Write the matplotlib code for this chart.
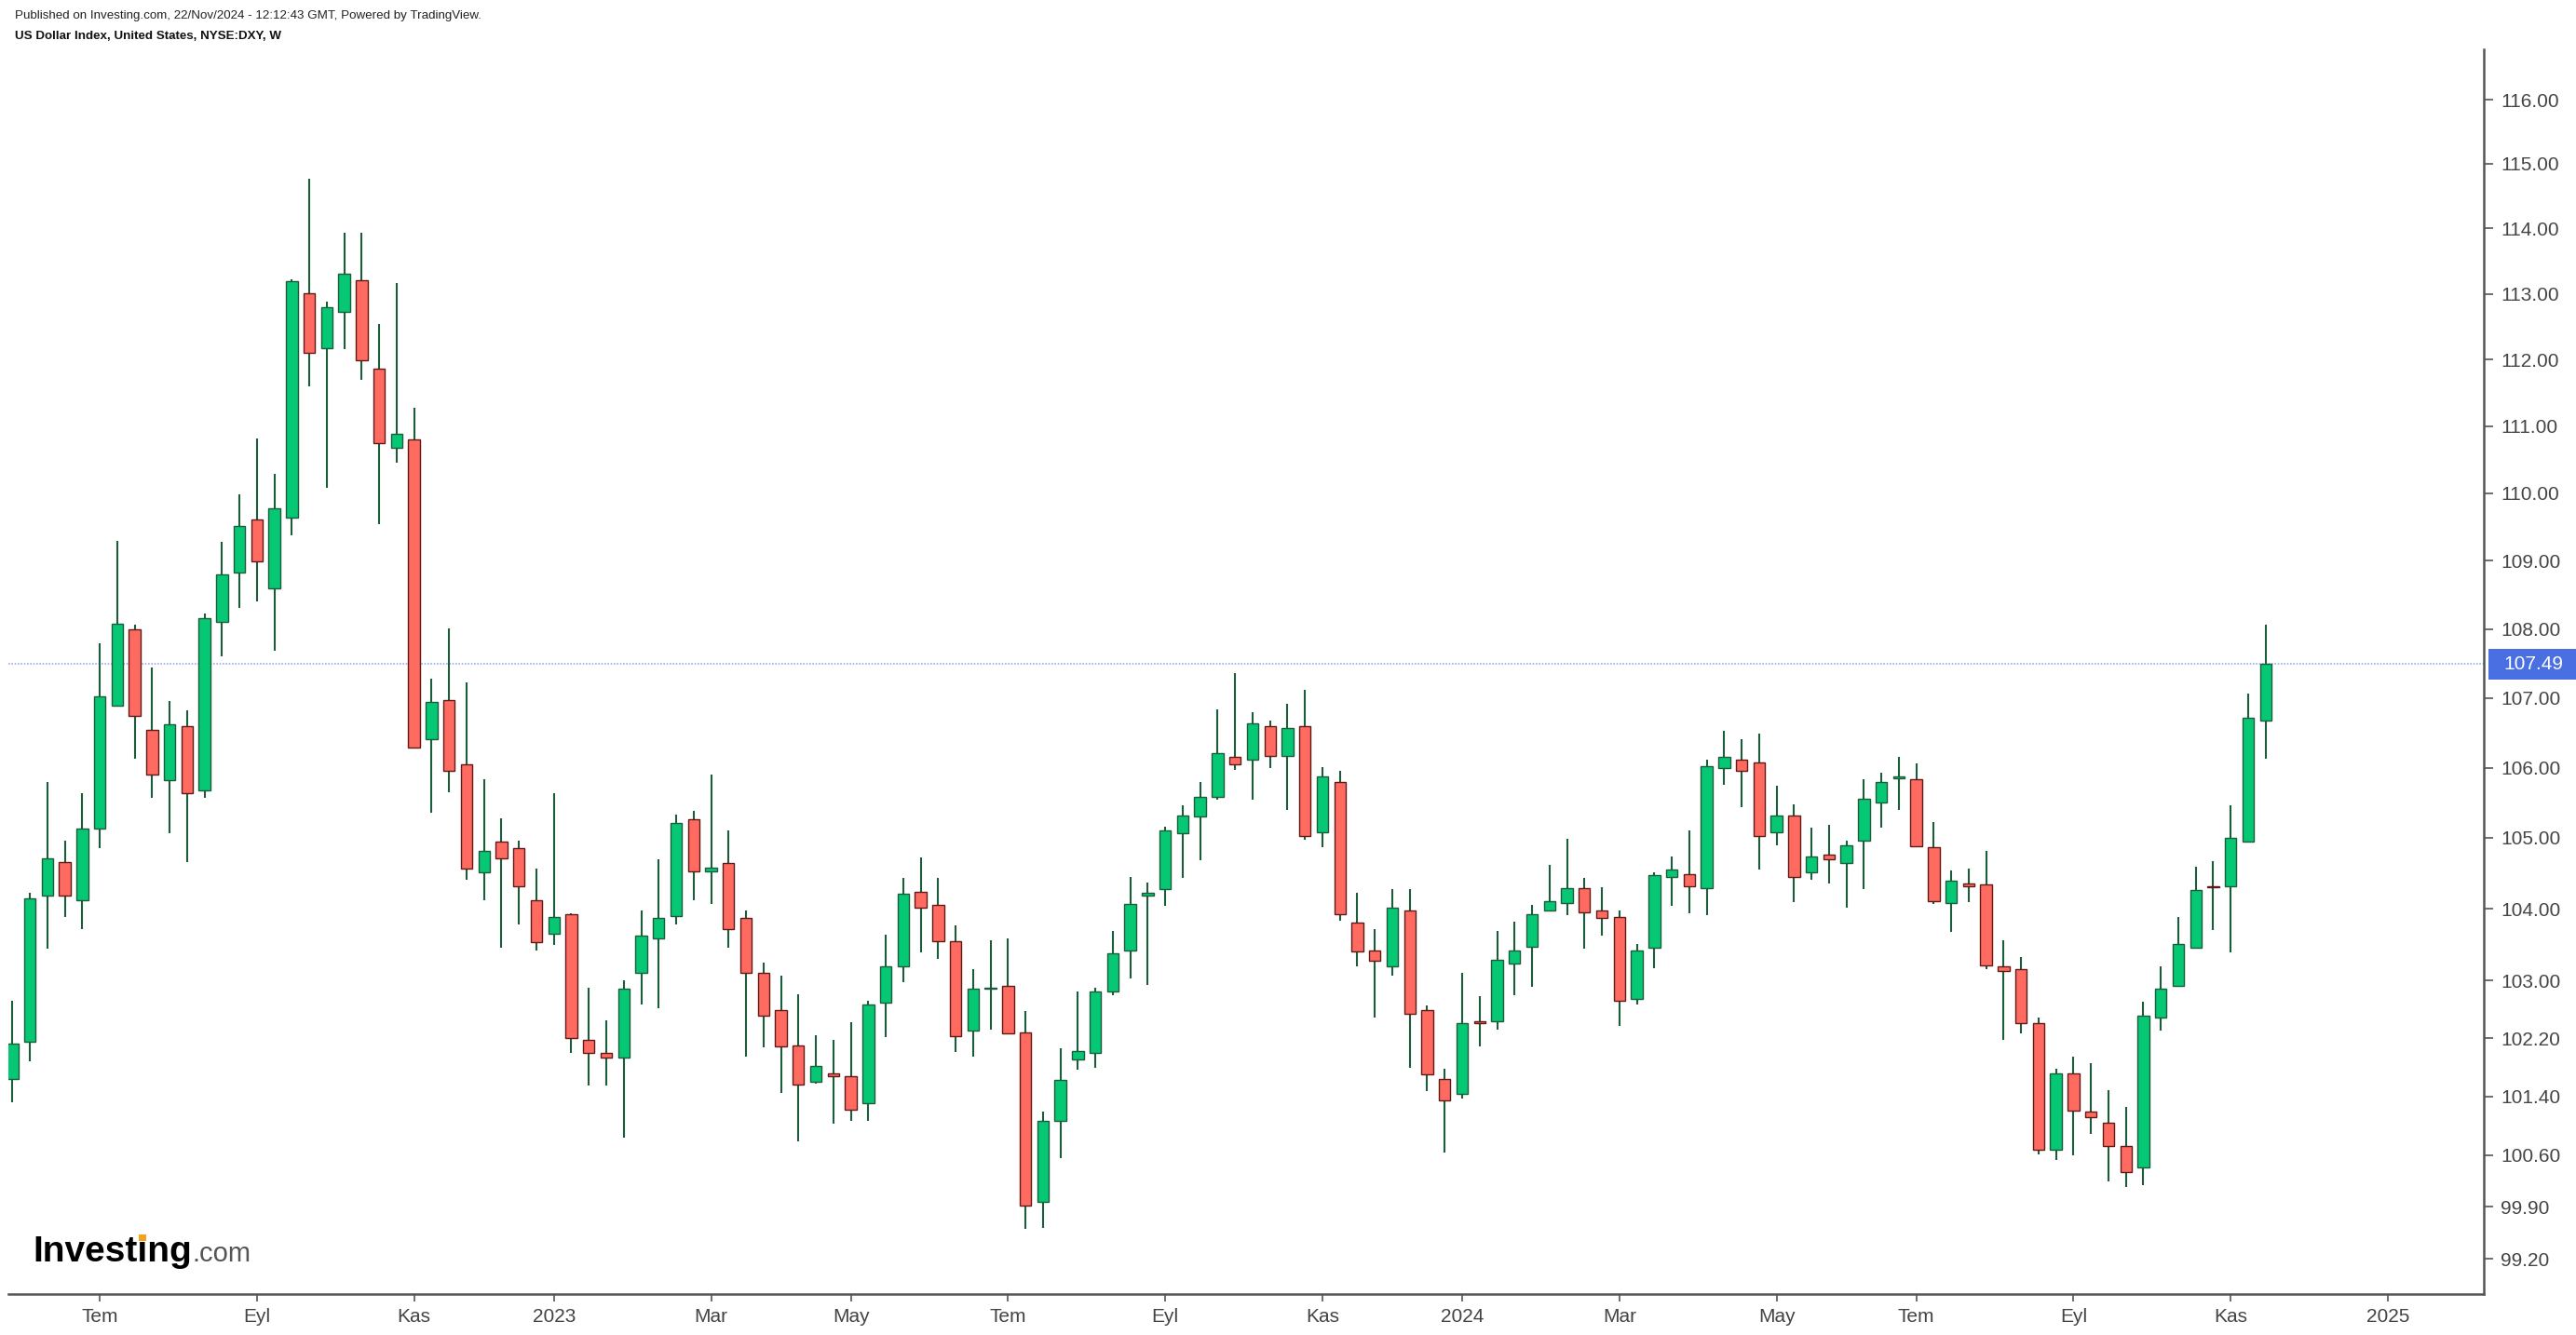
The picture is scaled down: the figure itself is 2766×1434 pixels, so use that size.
import numpy as np
import pandas as pd
import matplotlib
matplotlib.use("Agg")
import matplotlib.pyplot as plt
from matplotlib.patches import Rectangle
from matplotlib.transforms import IdentityTransform
from matplotlib.ticker import FixedLocator, FixedFormatter, NullLocator

# Weekly DXY candles, first week starting 2022-05-30
first_week = "2022-05-30"
opens = [
    101.64, 102.15, 104.18, 104.66, 104.12, 105.13, 106.89, 108.00, 106.54, 105.82,
    106.59, 105.68, 108.11, 108.83, 109.61, 108.59, 109.64, 113.01, 112.17, 112.73,
    113.21, 111.87, 110.67, 110.80, 106.41, 106.97, 106.05, 104.51, 104.95, 104.85,
    104.12, 103.65, 103.92, 102.17, 101.99, 101.93, 103.10, 103.59, 103.90, 105.27,
    104.53, 104.64, 103.87, 103.10, 102.59, 102.10, 101.60, 101.72, 101.67, 101.30,
    102.69, 103.19, 104.24, 104.06, 103.55, 102.31, 102.88, 102.92, 102.28, 99.97,
    101.07, 101.91, 102.00, 102.85, 103.42, 104.19, 104.27, 105.06, 105.30, 105.58,
    106.16, 106.11, 106.59, 106.17, 106.59, 105.08, 105.80, 103.81, 103.42, 103.19,
    103.97, 102.59, 101.64, 101.43, 102.43, 102.43, 103.23, 103.47, 103.97, 104.08,
    104.29, 103.97, 103.89, 102.74, 103.45, 104.45, 104.49, 104.29, 106.00, 106.11,
    106.07, 105.08, 105.32, 104.51, 104.76, 104.64, 104.96, 105.50, 105.85, 105.84,
    104.87, 104.08, 104.36, 104.34, 103.20, 103.15, 102.41, 100.67, 101.72, 101.19,
    101.04, 100.72, 100.43, 102.49, 102.92, 103.45, 104.32, 104.32, 104.95, 106.68,
]
highs = [
    102.72, 104.23, 105.80, 104.96, 105.64, 107.79, 109.30, 108.06, 107.44, 106.96,
    106.82, 108.23, 109.28, 109.98, 110.82, 110.28, 113.22, 114.77, 112.88, 113.94,
    113.94, 112.54, 113.17, 111.28, 107.28, 108.01, 107.22, 105.83, 105.28, 104.96,
    104.56, 105.64, 103.94, 102.90, 102.44, 103.00, 103.98, 104.69, 105.33, 105.38,
    105.90, 105.11, 103.98, 103.24, 103.06, 102.80, 102.24, 102.18, 102.42, 102.72,
    103.63, 104.43, 104.72, 104.43, 103.77, 103.16, 103.56, 103.58, 102.57, 101.19,
    102.06, 102.85, 102.90, 103.69, 104.45, 104.37, 105.16, 105.46, 105.80, 106.84,
    107.36, 106.79, 106.68, 106.91, 107.12, 106.01, 105.96, 104.22, 103.71, 104.27,
    104.27, 102.65, 101.78, 103.11, 102.78, 103.69, 103.82, 104.06, 104.62, 104.98,
    104.43, 104.30, 103.98, 103.51, 104.51, 104.74, 105.11, 106.12, 106.53, 106.41,
    106.49, 105.74, 105.48, 105.14, 105.19, 104.96, 105.83, 105.93, 106.15, 106.06,
    105.22, 104.54, 104.56, 104.82, 103.56, 103.33, 102.49, 101.78, 101.94, 101.86,
    101.48, 101.25, 102.70, 103.19, 103.88, 104.59, 104.67, 105.46, 107.06, 108.06,
]
lows = [
    101.32, 101.88, 103.44, 103.89, 103.71, 104.85, 106.88, 106.13, 105.57, 105.07,
    104.66, 105.57, 107.61, 108.31, 108.40, 107.69, 109.37, 111.59, 110.08, 112.16,
    111.70, 109.54, 110.46, 106.29, 105.36, 105.65, 104.41, 104.12, 103.46, 103.78,
    103.41, 103.49, 101.99, 101.55, 101.55, 100.84, 102.66, 102.61, 103.78, 104.12,
    104.07, 103.46, 101.95, 102.07, 101.44, 100.79, 101.57, 101.03, 101.06, 101.06,
    102.22, 102.97, 103.39, 103.30, 102.01, 101.95, 102.32, 102.26, 99.60, 99.62,
    100.56, 101.77, 101.79, 102.79, 103.02, 102.94, 104.04, 104.44, 104.68, 105.54,
    105.97, 105.54, 105.99, 105.39, 104.97, 104.87, 103.83, 103.20, 102.48, 103.07,
    101.79, 101.47, 100.64, 101.37, 102.09, 102.32, 102.79, 102.91, 103.97, 103.91,
    103.44, 103.62, 102.37, 102.66, 103.17, 104.04, 103.94, 103.91, 105.76, 105.44,
    104.55, 104.89, 104.09, 104.41, 104.36, 104.01, 104.28, 105.15, 105.39, 104.88,
    104.07, 103.67, 104.09, 103.15, 102.17, 102.27, 100.61, 100.53, 100.59, 100.89,
    100.24, 100.17, 100.19, 102.30, 102.92, 103.45, 103.70, 103.39, 104.95, 106.13,
]
closes = [
    102.12, 104.15, 104.71, 104.18, 105.13, 107.02, 108.08, 106.74, 105.90, 106.62,
    105.63, 108.16, 108.80, 109.52, 108.99, 109.77, 113.19, 112.10, 112.79, 113.30,
    111.99, 110.74, 110.88, 106.29, 106.95, 105.95, 104.56, 104.81, 104.71, 104.32,
    103.53, 103.89, 102.20, 102.00, 101.93, 102.89, 103.62, 103.87, 105.21, 104.53,
    104.58, 103.71, 103.10, 102.51, 102.09, 101.56, 101.82, 101.67, 101.22, 102.67,
    103.19, 104.21, 104.02, 103.55, 102.23, 102.89, 102.90, 102.26, 99.92, 101.06,
    101.62, 102.02, 102.84, 103.37, 104.07, 104.23, 105.10, 105.32, 105.58, 106.21,
    106.05, 106.64, 106.17, 106.57, 105.03, 105.87, 103.92, 103.40, 103.27, 104.02,
    102.54, 101.70, 101.35, 102.41, 102.41, 103.29, 103.42, 103.92, 104.10, 104.29,
    103.95, 103.87, 102.72, 103.42, 104.47, 104.55, 104.32, 106.02, 106.16, 105.95,
    105.03, 105.32, 104.45, 104.73, 104.69, 104.90, 105.55, 105.79, 105.87, 104.88,
    104.10, 104.39, 104.32, 103.21, 103.13, 102.41, 100.67, 101.72, 101.20, 101.12,
    100.72, 100.37, 102.51, 102.88, 103.51, 104.26, 104.30, 105.00, 106.71, 107.49,
]
last_price = 107.49
price_ticks = [99.20, 99.90, 100.60, 101.40, 102.20, 103.00, 104.00, 105.00, 106.00,
               107.00, 108.00, 109.00, 110.00, 111.00, 112.00, 113.00, 114.00, 115.00, 116.00]
month_labels = {1: None, 3: "Mar", 5: "May", 7: "Tem", 9: "Eyl", 11: "Kas"}
header_1 = "Published on Investing.com, 22/Nov/2024 - 12:12:43 GMT, Powered by TradingView."
header_2 = "US Dollar Index, United States, NYSE:DXY, W"

plt.rcParams["font.family"] = ["Liberation Sans", "DejaVu Sans"]

W, H = 2766, 1434
fig = plt.figure(figsize=(W / 100, H / 100), dpi=100)
ax = fig.add_axes([9 / W, 44 / H, 2658 / W, 1337 / H])

o = np.array(opens)
h = np.array(highs)
l = np.array(lows)
c = np.array(closes)
x = np.arange(len(o))
up = c >= o

wick_col = "#1D5C3B"
ax.vlines(x, l, h, color=wick_col, linewidth=1.5, zorder=2)
ax.bar(
    x,
    np.abs(c - o),
    bottom=np.minimum(o, c),
    width=0.66,
    color=np.where(up, "#06C874", "#FF6B61"),
    edgecolor=np.where(up, "#1D5C3B", "#5E1A16"),
    linewidth=1.0,
    zorder=3,
)

ax.axhline(last_price, color="#98ACF0", linewidth=1.2, linestyle=(0, (1, 1)), zorder=1)

ax.set_yscale("log")
ax.set_ylim(98.73, 116.79)
ax.set_xlim(-0.23, 141.49)

# right price axis
ax.yaxis.tick_right()
ax.yaxis.set_major_locator(FixedLocator(price_ticks))
ax.yaxis.set_major_formatter(FixedFormatter(["%.2f" % t for t in price_ticks]))
ax.yaxis.set_minor_locator(NullLocator())
ax.tick_params(axis="y", direction="out", length=7, width=1.2, color="#555555",
               labelsize=15, labelcolor="#444444", pad=6)

# time axis: first weekly bar of every second month
weeks = pd.date_range(first_week, periods=142, freq="W-MON")
tick_pos, tick_lab = [], []
for i in range(1, len(weeks)):
    d = weeks[i]
    if d.month in month_labels and weeks[i - 1].month != d.month:
        tick_pos.append(i)
        tick_lab.append(str(d.year) if d.month == 1 else month_labels[d.month])
ax.xaxis.set_major_locator(FixedLocator(tick_pos))
ax.xaxis.set_major_formatter(FixedFormatter(tick_lab))
ax.xaxis.set_minor_locator(NullLocator())
ax.tick_params(axis="x", direction="out", length=6, width=1.2, color="#555555",
               labelsize=15, labelcolor="#444444", pad=5)

for side in ["top", "left"]:
    ax.spines[side].set_visible(False)
for side in ["right", "bottom"]:
    ax.spines[side].set_color("#555555")
    ax.spines[side].set_linewidth(1.8)

# header
fig.text(16 / W, 1 - 17 / H, header_1, fontsize=9.6, color="#222222", va="center")
fig.text(16 / W, 1 - 39 / H, header_2, fontsize=9.6, weight="bold",
         color="#111111", va="center")

# last price label on the axis
fig.canvas.draw()
renderer = fig.canvas.get_renderer()
y_last = ax.transData.transform((0, last_price))[1]
box = Rectangle((2672, y_last - 16.5), W - 2672, 33, transform=IdentityTransform(),
                facecolor="#4A6FE3", edgecolor="none", zorder=5)
fig.add_artist(box)
fig.text(2688 / W, y_last / H, "%.2f" % last_price, fontsize=15, color="white",
         va="center", ha="left", zorder=6)

# Investing.com logo
logo_y = 1 - 1355 / H
logo = fig.text(35 / W, logo_y, "Investing", fontsize=28, weight="bold",
                color="black", va="baseline")
bb = logo.get_window_extent(renderer)
fig.text(bb.x1 / W + 1 / W, logo_y, ".com", fontsize=21, color="#555555",
         va="baseline")
# measure the prefix to place the orange dot over the "i", then drop the helper
pre = fig.text(35 / W, logo_y, "Invest", fontsize=28, weight="bold", va="baseline")
pb = pre.get_window_extent(renderer)
pre.remove()
em = 28 * 100 / 72
base_y = logo_y * H
dot = Rectangle((pb.x1 + 0.05 * em, base_y + 0.57 * em), 0.19 * em, 0.18 * em,
                transform=IdentityTransform(), facecolor="#F7A11A", edgecolor="none",
                zorder=7)
fig.add_artist(dot)

fig.savefig("out.png", dpi=100)
